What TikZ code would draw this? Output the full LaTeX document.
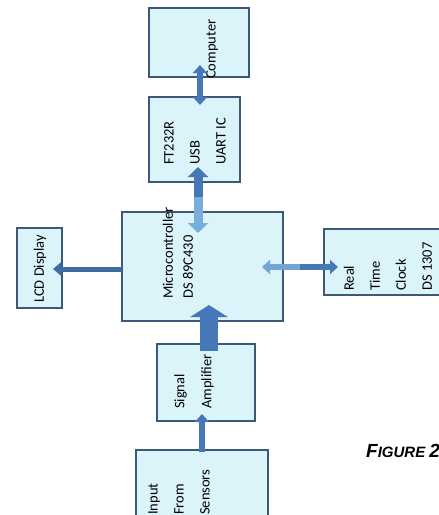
\documentclass[tikz,border=0pt]{standalone}
\usepackage{fontspec}
\setmainfont{Carlito}
\newfontfamily\figfont{Liberation Sans}
\usetikzlibrary{arrows.meta,calc}
\definecolor{boxfill}{HTML}{DBF4FA}
\definecolor{boxdraw}{HTML}{3C5A78}
\definecolor{arrdark}{HTML}{4677B6}
\definecolor{arrlight}{HTML}{79AEDC}
\tikzset{
  blk/.style={draw=boxdraw, fill=boxfill, line width=1.2pt, anchor=north west, inner sep=0pt, outer sep=0pt},
  lbl/.style={rotate=90, anchor=west, inner sep=0pt, align=left, font=\fontsize{14.5}{26}\selectfont},
  thin arr/.style={line width=6pt, -{Triangle[width=14pt,length=8pt]}},
}
\begin{document}
\begin{tikzpicture}[x=1pt,y=-1pt]
\useasboundingbox (0,0) rectangle (439,515);
% boxes
\node[blk, minimum width=100pt, minimum height=69pt] (comp) at (149,8) {};
\node[blk, minimum width=91pt, minimum height=85pt] (ft) at (149,97) {};
\node[blk, minimum width=161pt, minimum height=109pt] (mc) at (122,212) {};
\node[blk, minimum width=45pt, minimum height=80pt] (lcd) at (17,228) {};
\node[blk, minimum width=121pt, minimum height=66pt] (rtc) at (324,229) {};
\node[blk, minimum width=98pt, minimum height=77pt] (amp) at (157,344) {};
\node[blk, minimum width=132pt, minimum height=75pt] (inp) at (136,450) {};
% labels
\node[lbl] (tcomp) at (212,79) {Computer};
\node[lbl] (tft) at (195,165) {FT232R\\USB\\UART IC};
\node[lbl, font=\fontsize{14.5}{20}\selectfont] (tmc) at (178,299) {Microcontroller\\DS 89C430};
\node[lbl] (tlcd) at (40,303) {LCD Display};
\node[lbl] (trtc) at (388,291) {Real\\Time\\Clock\\DS 1307};
\node[lbl, font=\fontsize{14.5}{27}\selectfont] (tamp) at (194,409) {Signal\\Amplifier};
\node[lbl] (tinp) at (179,515) {Input\\From\\Sensors};
\node[anchor=base west, inner sep=0pt, font=\figfont\bfseries\itshape] (fig) at (366,457)
  {\fontsize{19}{19}\selectfont F\fontsize{15}{15}\selectfont IGURE \fontsize{19}{19}\selectfont 2};
% connectors
\coordinate (cf) at ($(comp.south)+(1,10)$);
\draw[arrdark, thin arr] (cf) -- ($(comp.south)+(1,-12)$);
\draw[arrdark, thin arr] (cf) -- ($(ft.north)+(5.5,8)$);
\coordinate (fm) at ($(ft.south)+(3.5,15)$);
\draw[arrdark, line width=9pt, -{Triangle[width=20pt,length=10pt]}] (fm) -- ($(ft.south)+(3.5,-15)$);
\draw[arrlight, line width=9pt, -{Triangle[width=20pt,length=10pt]}] (fm) -- ($(mc.north)+(-4.5,21)$);
\draw[arrdark!90!black, line width=5pt, -{Triangle[width=13pt,length=8pt]}] ($(mc.west)+(0,2.5)$) -- ($(lcd.east)+(-9,1)$);
\coordinate (mr) at ($(mc.east)+(17,0.5)$);
\draw[arrlight!85!arrdark, thin arr] (mr) -- ($(mc.east)+(-21,0.5)$);
\draw[arrdark, thin arr] (mr) -- ($(rtc.west)+(14,5)$);
\draw[arrdark, line width=18pt, -{Triangle[width=37pt,length=12pt]}] ($(amp.north)+(3,7)$) -- ($(mc.south)+(6.5,-16)$);
\draw[arrdark, thin arr] ($(inp.north)+(0,2)$) -- ($(amp.south)+(-4,-7)$);
\end{tikzpicture}
\end{document}
